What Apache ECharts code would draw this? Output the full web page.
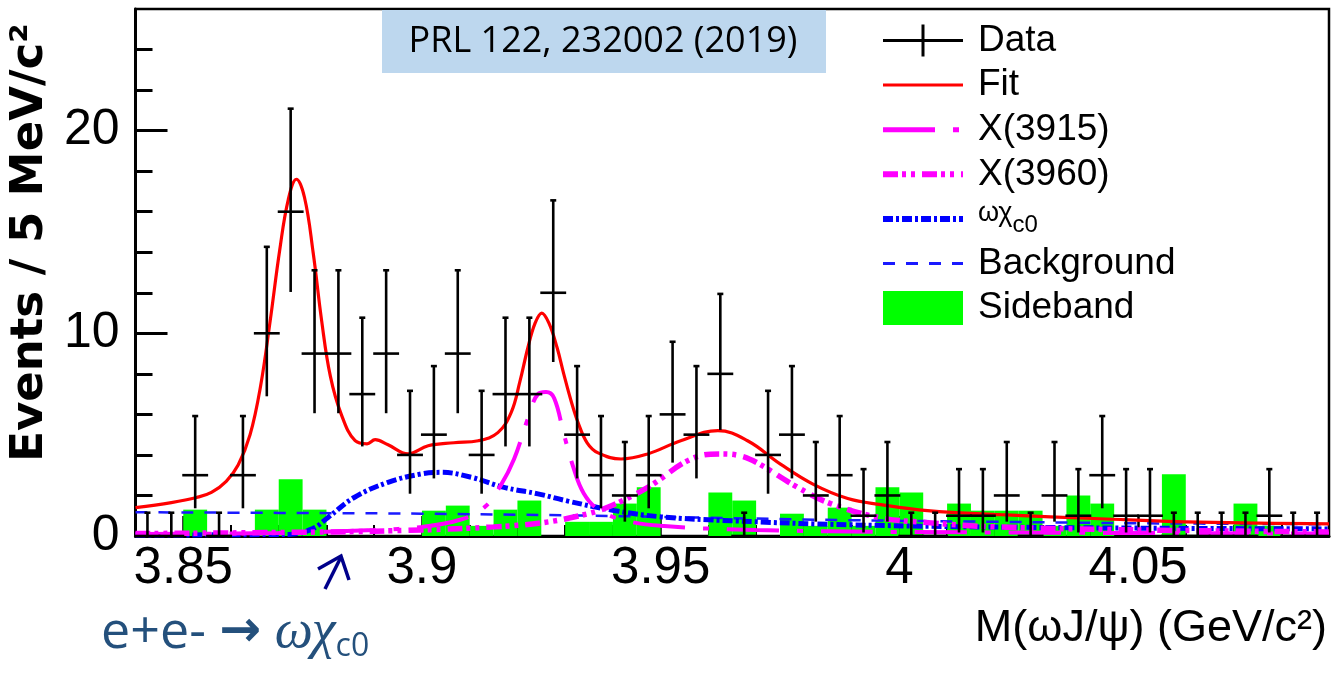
<!DOCTYPE html>
<html>
<head>
<meta charset="utf-8">
<script src="https://cdn.jsdelivr.net/npm/echarts@6/dist/echarts.min.js"></script>
<style>
  html, body { margin: 0; padding: 0; background: #ffffff; }
  #chart { width: 1332px; height: 675px; }
</style>
</head>
<body>
<div id="chart"></div>
<script>
// Histogram binning: 5 MeV/c^2 bins, centres in GeV/c^2
const binWidth = 0.005;
const binCenters = [
  3.8425, 3.8475, 3.8525, 3.8575, 3.8625, 3.8675, 3.8725, 3.8775, 3.8825, 3.8875,
  3.8925, 3.8975, 3.9025, 3.9075, 3.9125, 3.9175, 3.9225, 3.9275, 3.9325, 3.9375,
  3.9425, 3.9475, 3.9525, 3.9575, 3.9625, 3.9675, 3.9725, 3.9775, 3.9825, 3.9875,
  3.9925, 3.9975, 4.0025, 4.0075, 4.0125, 4.0175, 4.0225, 4.0275, 4.0325, 4.0375,
  4.0425, 4.0475, 4.0525, 4.0575, 4.0625, 4.0675, 4.0725, 4.0775, 4.0825, 4.0875
];

// Observed events per bin
const counts = [
  0, 0, 3, 0, 3, 10, 16, 9, 9, 7,
  9, 4, 5, 9, 4, 7, 7, 12, 5, 3,
  2, 3, 6, 5, 8, 0, 4, 5, 2, 3,
  1, 2, 0, 0, 1, 1, 2, 0, 2, 1,
  3, 1, 1, 0, 0, 0, 0, 1, 0, 0
];

// 68.3% Poisson interval half-widths, looked up by count
const poissonErrLow  = [0, 0.827, 1.292, 1.633, 1.914, 2.159, 2.380, 2.581, 2.768, 2.943, 3.108, 3.265, 3.415, 3.559, 3.697, 3.831, 3.960];
const poissonErrHigh = [1.148, 2.299, 2.637, 2.918, 3.162, 3.382, 3.583, 3.770, 3.944, 4.110, 4.266, 4.416, 4.559, 4.697, 4.830, 4.958, 5.083];

// Normalised sideband histogram
const sideband = [
  0, 0, 1.3, 0, 0, 1.3, 2.8, 1.3, 0, 0,
  0, 0, 1.25, 1.5, 0.5, 1.3, 1.75, 0, 0.7, 0.7,
  1.6, 2.4, 0, 0, 2.15, 1.75, 0, 1.1, 0.5, 1.4,
  0.5, 2.4, 2.15, 0, 1.6, 1.25, 1.25, 1.25, 0.5, 2.0,
  1.6, 0, 0, 3.05, 0, 0, 1.6, 0.5, 0, 0
];

// Fit components: [mass (GeV/c^2), events / 5 MeV]
const fitCurve = [
  [3.8400, 1.4], [3.8475, 1.65], [3.8528, 1.9], [3.8559, 2.15], [3.8590, 2.7],
  [3.8615, 3.5], [3.8640, 5.0], [3.8662, 7.4], [3.8682, 10.6], [3.8702, 14.1],
  [3.8720, 16.6], [3.8737, 17.6], [3.8754, 16.7], [3.8772, 14.0], [3.8790, 10.6],
  [3.8808, 7.9], [3.8831, 6.0], [3.8860, 4.7], [3.8885, 4.55], [3.8902, 4.75],
  [3.8929, 4.5], [3.8971, 4.05], [3.9013, 4.45], [3.9067, 4.6], [3.9118, 4.7],
  [3.9159, 5.1], [3.9187, 6.1], [3.9205, 7.6], [3.9222, 9.3], [3.9237, 10.5],
  [3.9251, 11.0], [3.9266, 10.5], [3.9283, 9.3], [3.9297, 8.0], [3.9312, 6.7],
  [3.9327, 5.6], [3.9346, 4.6], [3.9369, 4.1], [3.9417, 3.8], [3.9473, 4.05],
  [3.9542, 4.7], [3.9620, 5.2], [3.9682, 4.7], [3.9751, 3.55], [3.9820, 2.55],
  [3.9892, 1.85], [3.9961, 1.55], [4.0059, 1.25], [4.0212, 1.05], [4.0421, 0.85],
  [4.0630, 0.68], [4.0900, 0.6]
];
const x3915Curve = [
  [3.8400, 0.1], [3.8700, 0.15], [3.8900, 0.3], [3.9000, 0.45], [3.9080, 0.8],
  [3.9130, 1.4], [3.9165, 2.5], [3.9193, 3.8], [3.9222, 5.8], [3.9243, 7.0],
  [3.9260, 7.1], [3.9277, 6.8], [3.9297, 5.05], [3.9317, 3.4], [3.9339, 2.1],
  [3.9370, 1.3], [3.9420, 0.8], [3.9500, 0.5], [3.9700, 0.3], [4.0000, 0.2],
  [4.0900, 0.12]
];
const x3960Curve = [
  [3.8400, 0.12], [3.8800, 0.2], [3.9000, 0.3], [3.9150, 0.45], [3.9250, 0.65],
  [3.9330, 1.0], [3.9389, 1.42], [3.9473, 2.4], [3.9569, 3.85], [3.9626, 4.05],
  [3.9668, 3.95], [3.9703, 3.6], [3.9787, 2.4], [3.9856, 1.6], [3.9961, 0.9],
  [4.0059, 0.66], [4.0200, 0.45], [4.0500, 0.3], [4.0900, 0.2]
];
const omegaChiCurve = [
  [3.8400, 0.05], [3.8720, 0.08], [3.8770, 0.35], [3.8804, 0.93], [3.8858, 1.9],
  [3.8929, 2.65], [3.8998, 3.06], [3.9040, 3.14], [3.9103, 2.9], [3.9172, 2.4],
  [3.9243, 2.08], [3.9306, 1.72], [3.9402, 1.26], [3.9500, 0.95], [3.9650, 0.75],
  [3.9900, 0.55], [4.0300, 0.42], [4.0900, 0.35]
];
const backgroundCurve = [
  [3.8400, 1.17], [3.8700, 1.14], [3.9000, 1.1], [3.9300, 1.02], [3.9600, 0.9],
  [3.9900, 0.78], [4.0200, 0.7], [4.0500, 0.63], [4.0900, 0.58]
];

// Axis ticks
const xMajorTicks = [3.85, 3.9, 3.95, 4, 4.05];
const xMinorTicks = [3.86, 3.87, 3.88, 3.89, 3.91, 3.92, 3.93, 3.94, 3.96, 3.97, 3.98, 3.99,
                     4.01, 4.02, 4.03, 4.04, 4.06, 4.07, 4.08];
const yMajorTicks = [0, 10, 20];
const yMinorTicks = [2, 4, 6, 8, 12, 14, 16, 18, 22, 24];

const SANS = "'Liberation Sans', Arial, sans-serif";
const X_MIN = 3.84, X_MAX = 4.09, Y_MAX = 26;

const dataPoints = binCenters.map((m, i) => {
  const n = counts[i];
  return [m, n, n - poissonErrLow[n], n + poissonErrHigh[n]];
});
const sidebandBars = binCenters.map((m, i) => [m, sideband[i]]);

function renderErrorBar(params, api) {
  const m = api.value(0), n = api.value(1), lo = api.value(2), hi = api.value(3);
  const a = api.coord([m - binWidth / 2, n]);
  const b = api.coord([m + binWidth / 2, n]);
  const top = api.coord([m, hi]);
  const bot = api.coord([m, lo]);
  const style = { stroke: '#000000', lineWidth: 2.6 };
  return {
    type: 'group',
    children: [
      { type: 'line', shape: { x1: a[0] - 1, y1: a[1], x2: b[0] + 1, y2: b[1] }, style },
      { type: 'line', shape: { x1: top[0], y1: top[1], x2: bot[0], y2: bot[1] }, style },
      { type: 'line', shape: { x1: top[0] - 3, y1: top[1], x2: top[0] + 3, y2: top[1] }, style }
    ]
  };
}

function renderSideband(params, api) {
  const m = api.value(0), v = api.value(1);
  if (!v) return null;
  const p0 = api.coord([m - binWidth / 2, v]);
  const p1 = api.coord([m + binWidth / 2, 0]);
  return {
    type: 'rect',
    shape: { x: p0[0], y: p0[1], width: p1[0] - p0[0], height: p1[1] - p0[1] },
    style: { fill: '#00ff00' }
  };
}

const chart = echarts.init(document.getElementById('chart'), null, { renderer: 'canvas' });

const lineBase = { type: 'line', xAxisIndex: 0, yAxisIndex: 0, symbol: 'none', smooth: 0.4, clip: true };
const hiddenSymbol = { opacity: 0 };
const LEGEND_FONT = 37;

chart.setOption({
  animation: false,
  backgroundColor: '#ffffff',
  grid: { left: 134, right: 3, top: 9, bottom: 139, show: true,
          borderColor: '#000000', borderWidth: 2.5, backgroundColor: 'transparent' },
  xAxis: [
    {
      type: 'value', min: X_MIN, max: X_MAX, position: 'bottom',
      axisLine: { show: true, lineStyle: { color: '#000000', width: 3 } },
      axisTick: { show: true, inside: true, length: 20, customValues: xMajorTicks,
                  lineStyle: { color: '#000000', width: 2.5 } },
      axisLabel: { customValues: xMajorTicks, fontFamily: SANS, fontSize: 51, color: '#000000', margin: 7 },
      splitLine: { show: false },
      name: 'M(ωJ/ψ) (GeV/c²)', nameLocation: 'end', nameGap: -2,
      nameTextStyle: { fontFamily: SANS, fontSize: 45, color: '#000000',
                       align: 'right', verticalAlign: 'top', padding: [70, 0, 0, 0] }
    },
    {
      type: 'value', min: X_MIN, max: X_MAX, position: 'bottom',
      axisLine: { show: false },
      axisTick: { show: true, inside: true, length: 11, customValues: xMinorTicks,
                  lineStyle: { color: '#000000', width: 2 } },
      axisLabel: { show: false }, splitLine: { show: false }
    }
  ],
  yAxis: [
    {
      type: 'value', min: 0, max: Y_MAX, position: 'left',
      axisLine: { show: true, lineStyle: { color: '#000000', width: 3 } },
      axisTick: { show: true, inside: true, length: 32, customValues: yMajorTicks,
                  lineStyle: { color: '#000000', width: 3 } },
      axisLabel: { customValues: yMajorTicks, fontFamily: SANS, fontSize: 50, color: '#000000', margin: 16 },
      splitLine: { show: false },
      name: 'Events / 5 MeV/c²', nameLocation: 'middle', nameGap: 75, nameRotate: 90,
      nameTextStyle: { fontFamily: "'DejaVu Sans', sans-serif", fontWeight: 'bold', fontSize: 45,
                       color: '#000000', padding: [0, 0, 0, 60] }
    },
    {
      type: 'value', min: 0, max: Y_MAX, position: 'left',
      axisLine: { show: false },
      axisTick: { show: true, inside: true, length: 17, customValues: yMinorTicks,
                  lineStyle: { color: '#000000', width: 3 } },
      axisLabel: { show: false }, splitLine: { show: false }
    }
  ],
  legend: {
    orient: 'vertical', left: 880, top: 22, padding: 0,
    itemWidth: 80, itemHeight: 34, itemGap: 44.6 - LEGEND_FONT,
    selectedMode: false,
    textStyle: {
      fontFamily: SANS, fontSize: LEGEND_FONT, color: '#000000', padding: [0, 0, 0, 10],
      rich: {
        h: { fontSize: 10, lineHeight: LEGEND_FONT },
        g: { fontFamily: SANS, fontSize: 27, lineHeight: 18, verticalAlign: 'top', color: '#000000' },
        s: { fontFamily: SANS, fontSize: 24, lineHeight: 18, verticalAlign: 'bottom', color: '#000000' }
      }
    },
    formatter: name => (name === 'ωχc0' ? '{h|\u200b}{g|ωχ}{s|c0}' : name),
    data: [
      { name: 'Data', icon: 'path://M0,15.5H80V18.5H0Z M38.5,1H41.5V33H38.5Z' },
      { name: 'Fit', itemStyle: hiddenSymbol, lineStyle: { width: 3 } },
      { name: 'X(3915)', itemStyle: hiddenSymbol, lineStyle: { width: 5 } },
      { name: 'X(3960)', itemStyle: hiddenSymbol, lineStyle: { width: 6 } },
      { name: 'ωχc0', itemStyle: hiddenSymbol, lineStyle: { width: 6 } },
      { name: 'Background', itemStyle: hiddenSymbol, lineStyle: { width: 3 } },
      { name: 'Sideband', icon: 'rect' }
    ]
  },
  series: [
    {
      name: 'Sideband', type: 'custom', xAxisIndex: 0, yAxisIndex: 0,
      data: sidebandBars, renderItem: renderSideband,
      itemStyle: { color: '#00ff00' }, encode: { x: 0, y: 1 }, z: 1
    },
    Object.assign({}, lineBase, {
      name: 'Background', data: backgroundCurve, z: 3,
      itemStyle: { color: '#1a1aff' },
      lineStyle: { color: '#1a1aff', width: 2.5, type: [12, 11] }
    }),
    Object.assign({}, lineBase, {
      name: 'ωχc0', data: omegaChiCurve, z: 3,
      itemStyle: { color: '#0000ff' },
      lineStyle: { color: '#0000ff', width: 5, type: [10, 3, 3, 3] }
    }),
    Object.assign({}, lineBase, {
      name: 'X(3960)', data: x3960Curve, z: 4,
      itemStyle: { color: '#ff00ff' },
      lineStyle: { color: '#ff00ff', width: 5.5, type: [15, 4, 4, 5, 4, 7] }
    }),
    Object.assign({}, lineBase, {
      name: 'X(3915)', data: x3915Curve, z: 4,
      itemStyle: { color: '#ff00ff' },
      lineStyle: { color: '#ff00ff', width: 4, type: [52, 18, 6, 18] }
    }),
    Object.assign({}, lineBase, {
      name: 'Fit', data: fitCurve, z: 5,
      itemStyle: { color: '#ff0000' },
      lineStyle: { color: '#ff0000', width: 3.2 }
    }),
    {
      name: 'Data', type: 'custom', xAxisIndex: 0, yAxisIndex: 0,
      data: dataPoints, renderItem: renderErrorBar,
      itemStyle: { color: '#000000' }, encode: { x: 0, y: 1 }, z: 10
    }
  ],
  graphic: [
    {
      type: 'rect', z: 50,
      shape: { x: 382, y: 10, width: 444, height: 63 },
      style: { fill: '#bdd7ee' }
    },
    {
      type: 'text', z: 51, x: 603, y: 42,
      style: { text: 'PRL 122, 232002 (2019)', fontFamily: "'Open Sans', 'Noto Sans', sans-serif",
               fontSize: 36, fill: '#000000', align: 'center', verticalAlign: 'middle' }
    },
    {
      type: 'polyline', z: 50,
      shape: { points: [[325, 589], [341, 557]] },
      style: { stroke: '#00008b', lineWidth: 3.5, fill: null }
    },
    {
      type: 'polyline', z: 50,
      shape: { points: [[318, 569], [341, 556], [349, 580]] },
      style: { stroke: '#00008b', lineWidth: 3.5, fill: null }
    },
    {
      type: 'text', z: 50, x: 101, y: 633,
      style: {
        text: '{t|e+e- }{a|→}{t| }{g|ωχ}{s|c0}',
        verticalAlign: 'middle', align: 'left',
        rich: {
          t: { fontFamily: "'Open Sans', 'Noto Sans', sans-serif", fontSize: 52, fill: '#24507c', lineHeight: 60 },
          a: { fontFamily: "'DejaVu Sans', sans-serif", fontSize: 50, fontWeight: 'bold', fill: '#24507c', lineHeight: 60 },
          g: { fontFamily: "'Liberation Serif', 'DejaVu Serif', serif", fontStyle: 'italic', fontSize: 54, fill: '#24507c', lineHeight: 60 },
          s: { fontFamily: "'Open Sans', 'Noto Sans', sans-serif", fontSize: 32, fill: '#24507c', lineHeight: 33,
               verticalAlign: 'bottom' }
        }
      }
    }
  ]
});
</script>
</body>
</html>
